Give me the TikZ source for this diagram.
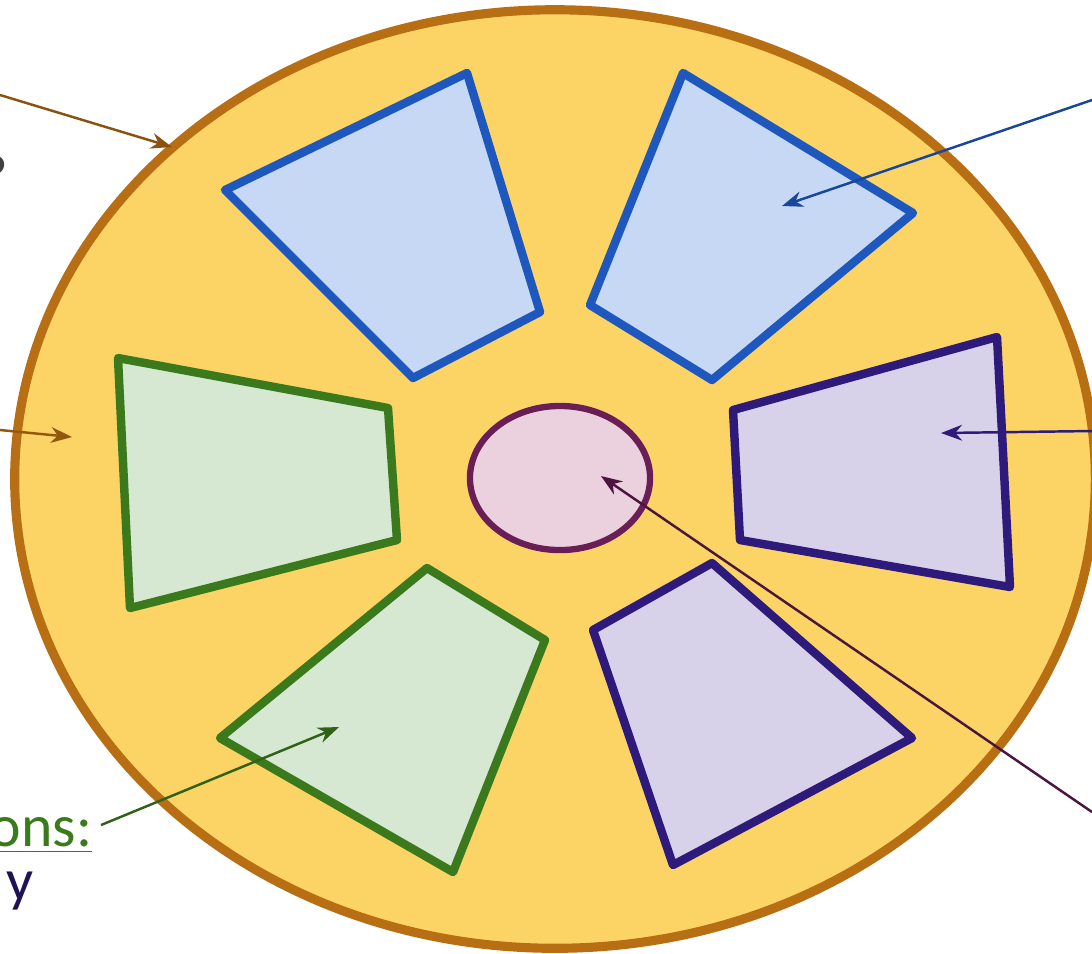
\documentclass[tikz,border=0pt]{standalone}
\usepackage{fontspec}
\setmainfont{Carlito}
\usepackage{tikz}
\usetikzlibrary{arrows.meta,shapes.geometric}
\definecolor{rimbrown}{HTML}{B86E12}
\definecolor{discfill}{HTML}{FCD466}
\definecolor{bluefill}{HTML}{C6D8F4}
\definecolor{blueline}{HTML}{1E58BE}
\definecolor{greenfill}{HTML}{D6E8D2}
\definecolor{greenline}{HTML}{3B7A1C}
\definecolor{purpfill}{HTML}{D8D1EA}
\definecolor{purpline}{HTML}{2D1A7A}
\definecolor{corefill}{HTML}{EBD0DE}
\definecolor{coreline}{HTML}{6A1E58}

\begin{document}
\begin{tikzpicture}[x=0.01cm,y=-0.01cm,
  seg/.style={line width=2.4pt,line join=round},
  ptr/.style={line width=0.7pt,-{Stealth[length=6pt,width=4.5pt]}},
  frag/.style={font=\fontsize{17}{20}\selectfont,inner sep=0pt}]
  \useasboundingbox (0,0) rectangle (1092,953);
  \clip (0,0) rectangle (1092,953);
  % disc
  \draw[rimbrown,fill=discfill,line width=2.6pt] (555,479) ellipse [x radius=5.40cm,y radius=4.69cm];
  % upper pair
  \draw[seg,draw=blueline,fill=bluefill] (225,190) -- (467,73) -- (540,312) -- (413,378) -- cycle;
  \draw[seg,draw=blueline,fill=bluefill] (683,73) -- (913,213) -- (712,380) -- (590,305) -- cycle;
  % left pair
  \draw[seg,draw=greenline,fill=greenfill] (118,358) -- (388,408) -- (397,540) -- (130,608) -- cycle;
  \draw[seg,draw=greenline,fill=greenfill] (220,738) -- (427,568) -- (545,640) -- (453,872) -- cycle;
  % right pair
  \draw[seg,draw=purpline,fill=purpfill] (733,410) -- (997,337) -- (1010,587) -- (740,540) -- cycle;
  \draw[seg,draw=purpline,fill=purpfill] (593,630) -- (712,563) -- (912,738) -- (673,865) -- cycle;
  % centre
  \node[ellipse,draw=coreline,fill=corefill,line width=1.8pt,minimum width=1.8cm,minimum height=1.44cm,inner sep=0pt] (core) at (560,478) {};
  % cut-off labels
  \node[frag,anchor=east,text=black!75] (qmark) at (9,176) {?};
  \node[frag,anchor=base east,text=greenline] (lblgreen) at (93,846) {\underline{ons:}};
  \node[frag,anchor=base east,text=purpline!70!black] (lbly) at (34,900) {y};
  % pointer ends
  \coordinate (srcrim) at (0,95);
  \coordinate (tgtrim) at (172,147);
  \coordinate (srcdisc) at (0,430);
  \coordinate (tgtdisc) at (72,437);
  \coordinate (srcblue) at (1092,100);
  \coordinate (tgtblue) at (782,206);
  \coordinate (srcpurp) at (1092,431);
  \coordinate (tgtpurp) at (941,433);
  \coordinate (srccore) at (1092,812);
  \coordinate (tgtcore) at (601,476);
  \coordinate (srcgreen) at (101,825);
  \coordinate (tgtgreen) at (339,727);
  % pointers
  \draw[ptr,draw=rimbrown!75!black,fill=rimbrown!75!black] (srcrim) -- (tgtrim);
  \draw[ptr,draw=rimbrown!80!black,fill=rimbrown!80!black] (srcdisc) -- (tgtdisc);
  \draw[ptr,draw=blueline!80!black,fill=blueline!80!black] (srcblue) -- (tgtblue);
  \draw[ptr,draw=purpline,fill=purpline] (srcpurp) -- (tgtpurp);
  \draw[ptr,draw=coreline!70!black,fill=coreline!70!black] (srccore) -- (tgtcore);
  \draw[ptr,draw=greenline!80!black,fill=greenline!80!black] (srcgreen) -- (tgtgreen);
\end{tikzpicture}
\end{document}
